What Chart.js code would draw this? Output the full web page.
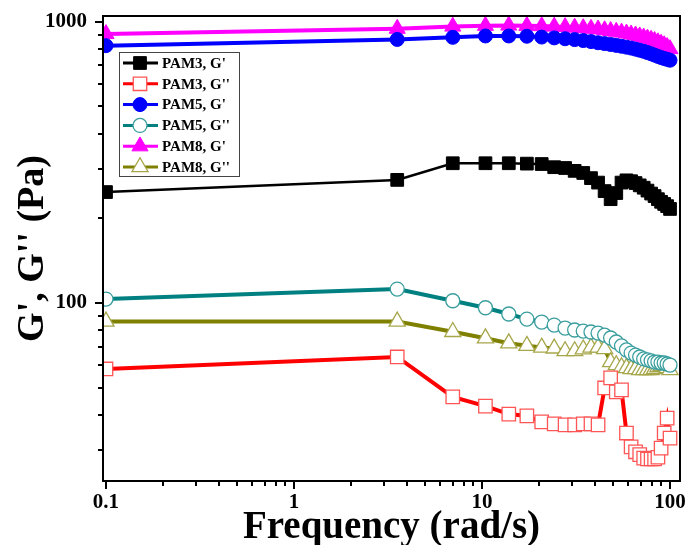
<!DOCTYPE html>
<html>
<head>
<meta charset="utf-8">
<script src="https://cdn.jsdelivr.net/npm/chart.js@4.4.0/dist/chart.umd.min.js"></script>
<style>
  html, body { margin: 0; padding: 0; background: #fff; }
</style>
</head>
<body>
<canvas id="rheo" width="685" height="545"></canvas>
<script>
// frequency sweep (rad/s)
const freq = [0.1, 3.54, 6.99, 10.43, 13.88, 17.32, 20.77, 24.21, 27.66, 31.1, 34.55, 37.99, 41.43, 44.88, 48.32,
	51.77, 55.21, 58.66, 62.1, 65.55, 68.99, 72.44, 75.88, 79.33, 82.77, 86.22, 89.66, 93.11, 96.55, 100];

const pam3Storage = [248, 274, 314, 314, 314, 313, 312, 304, 302, 295, 290, 278, 268, 250, 234,
	246, 268, 273, 271, 267, 262, 257, 251, 245, 240, 234, 229, 225, 221, 216];
const pam3Loss = [58.3, 64.3, 46.4, 43.0, 40.3, 39.7, 37.8, 37.2, 36.9, 36.9, 37.2, 37.2, 36.9, 49.9, 54.2,
	48.3, 49.1, 34.5, 30.8, 29.6, 28.9, 28.1, 27.9, 27.9, 27.9, 28.3, 30.5, 34.5, 39.0, 33.1];
const pam5Storage = [822, 865, 880, 890, 890, 888, 882, 876, 870, 864, 857, 850, 842, 836, 830,
	824, 818, 812, 806, 799, 792, 785, 777, 769, 761, 753, 746, 740, 735, 730];
const pam5Loss = [103.3, 112.1, 101.9, 96.2, 91.4, 87.7, 85.6, 83.5, 81.5, 80.2, 79.5, 78.9, 78.2, 76.9, 75.1,
	72.7, 70.4, 68.1, 66.4, 65.3, 64.3, 63.3, 62.8, 62.3, 61.7, 61.7, 61.2, 61.2, 60.7, 60.2];
const pam8Storage = [905, 945, 962, 968, 970, 968, 965, 962, 958, 954, 950, 945, 940, 934, 928,
	922, 916, 909, 902, 895, 888, 880, 872, 864, 855, 846, 836, 826, 814, 800];
const pam8Loss = [86, 86, 79, 75, 72, 70.5, 69.5, 69, 67.5, 67.5, 68.5, 69.5, 69.5, 68.7, 61.7,
	60.2, 59.2, 58.8, 58.3, 58.3, 57.8, 57.8, 57.8, 57.8, 58.3, 59.2, 59.7, 59.7, 58.8, 57.8];

const xMajor = [0.1, 1, 10, 100];
const xMinor = [0.2, 0.3, 0.4, 0.5, 0.6, 0.7, 0.8, 0.9, 2, 3, 4, 5, 6, 7, 8, 9, 20, 30, 40, 50, 60, 70, 80, 90];
const yMajor = [100, 1000];
const yMinor = [30, 40, 50, 60, 70, 80, 90, 200, 300, 400, 500, 600, 700, 800, 900];

const serif = '"Liberation Serif", "Times New Roman", serif';

const pairs = (ys) => freq.map((x, i) => ({ x, y: ys[i] }));

const series = (label, ys, color, style, filled, edge, radius) => ({
	label,
	data: pairs(ys),
	borderColor: color,
	borderWidth: color === '#000000' ? 2.5 : 4,
	pointStyle: style,
	pointRadius: radius,
	pointBackgroundColor: filled ? color : '#ffffff',
	pointBorderColor: edge,
	pointBorderWidth: filled ? 1 : 1.3,
	tension: 0,
});

// axis frame with outward ticks
const frame = {
	id: 'frame',
	afterDraw(chart) {
		const { ctx, chartArea: a, scales } = chart;
		ctx.save();
		ctx.strokeStyle = '#000';
		ctx.lineWidth = 2;
		ctx.strokeRect(a.left, a.top, a.right - a.left, a.bottom - a.top);
		const xtick = (vals, len) => {
			vals.forEach((v) => {
				const px = Math.round(scales.x.getPixelForValue(v));
				ctx.beginPath();
				ctx.moveTo(px, a.bottom);
				ctx.lineTo(px, a.bottom + len);
				ctx.stroke();
			});
		};
		const ytick = (vals, len) => {
			vals.forEach((v) => {
				const py = Math.round(scales.y.getPixelForValue(v));
				ctx.beginPath();
				ctx.moveTo(a.left, py);
				ctx.lineTo(a.left - len, py);
				ctx.stroke();
			});
		};
		xtick(xMajor, 8);
		xtick(xMinor, 5);
		ytick(yMajor, 8);
		ytick(yMinor, 5);
		ctx.restore();
	},
};

// boxed legend: line sample with marker, then label
const legendBox = {
	id: 'legendBox',
	afterDraw(chart) {
		const { ctx } = chart;
		const box = { x: 119, y: 52, w: 120, h: 124 };
		ctx.save();
		ctx.fillStyle = '#fff';
		ctx.fillRect(box.x, box.y, box.w, box.h);
		ctx.strokeStyle = '#444';
		ctx.lineWidth = 1;
		ctx.strokeRect(box.x + 0.5, box.y + 0.5, box.w, box.h);
		chart.data.datasets.forEach((ds, i) => {
			const y = 63 + i * 20.8;
			ctx.strokeStyle = ds.borderColor;
			ctx.lineWidth = 3;
			ctx.beginPath();
			ctx.moveTo(123, y);
			ctx.lineTo(158, y);
			ctx.stroke();
			ctx.fillStyle = ds.pointBackgroundColor;
			ctx.strokeStyle = ds.pointBorderColor;
			ctx.lineWidth = ds.pointBorderWidth;
			Chart.helpers.drawPoint(ctx, {
				pointStyle: ds.pointStyle,
				radius: ds.pointRadius,
				rotation: 0,
				borderWidth: ds.pointBorderWidth,
			}, 140, y);
			ctx.fillStyle = '#000';
			ctx.font = 'bold 15px ' + serif;
			ctx.textBaseline = 'middle';
			ctx.fillText(ds.label, 162, y + 1);
		});
		ctx.restore();
	},
};

new Chart('rheo', {
	type: 'line',
	data: {
		datasets: [
			series("PAM3, G'", pam3Storage, '#000000', 'rect', true, '#000000', 9),
			series("PAM3, G''", pam3Loss, '#ff0000', 'rect', false, '#ff5555', 9.5),
			series("PAM5, G'", pam5Storage, '#0000ff', 'circle', true, '#0000ff', 7),
			series("PAM5, G''", pam5Loss, '#008080', 'circle', false, '#3a9e9e', 7),
			series("PAM8, G'", pam8Storage, '#ff00ff', 'triangle', true, '#ff00ff', 9.3),
			series("PAM8, G''", pam8Loss, '#808000', 'triangle', false, '#a6a64a', 9.3),
		],
	},
	options: {
		responsive: false,
		animation: false,
		devicePixelRatio: 1,
		layout: { autoPadding: false, padding: { top: 16, right: 5, left: 0, bottom: 0 } },
		plugins: {
			legend: { display: false },
			tooltip: { enabled: false },
		},
		scales: {
			x: {
				type: 'logarithmic',
				min: 0.0964,
				max: 113,
				grid: { display: false, drawTicks: false },
				border: { display: false },
				afterBuildTicks: (s) => {
					s.ticks = xMajor.map((value) => ({ value }));
				},
				afterFit: (s) => {
					s.height = 64;
					s.paddingLeft = 0;
					s.paddingRight = 0;
				},
				ticks: {
					autoSkip: false,
					maxRotation: 0,
					padding: 9,
					color: '#000',
					font: { family: serif, weight: 'bold', size: 21 },
					callback: (v) => String(v),
				},
				title: {
					display: true,
					text: 'Frequency (rad/s)',
					color: '#000',
					padding: 0,
					font: { family: serif, weight: 'bold', size: 39, lineHeight: 0.86 },
				},
			},
			y: {
				type: 'logarithmic',
				min: 23.3,
				max: 1048,
				grid: { display: false, drawTicks: false },
				border: { display: false },
				afterBuildTicks: (s) => {
					s.ticks = yMajor.map((value) => ({ value }));
				},
				afterFit: (s) => {
					s.width = 103;
					s.paddingTop = 0;
					s.paddingBottom = 0;
				},
				ticks: {
					padding: 16,
					color: '#000',
					font: { family: serif, weight: 'bold', size: 21 },
					callback: (v) => String(v),
				},
				title: {
					display: true,
					text: "G', G'' (Pa)",
					color: '#000',
					padding: { top: 10, bottom: 0 },
					font: { family: serif, weight: 'bold', size: 38, lineHeight: 1.2 },
				},
			},
		},
	},
	plugins: [frame, legendBox],
});
</script>
</body>
</html>
